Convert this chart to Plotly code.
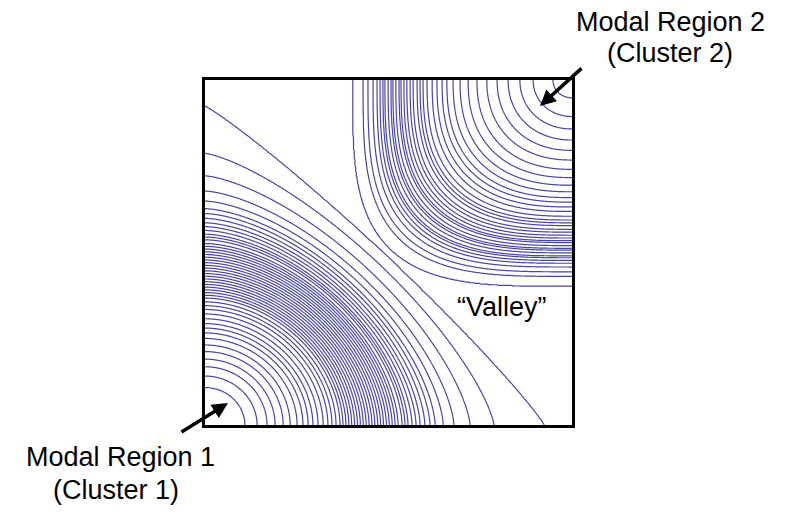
import numpy as np
import plotly.graph_objects as go

# ---- values (box-relative, fraction of box side) ----
# Modal region 1 (bottom-left corner): radii where successive contour levels cross the box edge
m1_outer_radii = [0.924, 0.787, 0.722, 0.678, 0.649, 0.627, 0.613, 0.599, 0.586,
                  0.575, 0.564, 0.553, 0.545, 0.537, 0.526, 0.518, 0.510]
m1_dense_levels = 17          # levels packed in the dense band between the two lists
m1_inner_radii = [0.376, 0.368, 0.357, 0.346, 0.335, 0.322, 0.308, 0.294, 0.281,
                  0.267, 0.251, 0.232, 0.213, 0.191, 0.169, 0.142, 0.109]
m1_shape_exp = [2.0, 1.1]     # contour shape exponent: inner -> outermost

# Modal region 2 (top-right corner): radii of successive contour levels (outermost first)
m2_radii = [0.597, 0.569, 0.556, 0.542, 0.531, 0.523, 0.515, 0.510, 0.501, 0.493,
            0.488, 0.480, 0.471, 0.466, 0.458, 0.450, 0.441, 0.433, 0.422, 0.414,
            0.406, 0.395, 0.381, 0.368, 0.354, 0.341, 0.324, 0.305, 0.283, 0.259,
            0.232, 0.204, 0.174, 0.142, 0.106, 0.052]
m2_shape_exp = [2.0, 3.6]

labels = {"m2a": "Modal Region 2", "m2b": "(Cluster 2)",
          "m1a": "Modal Region 1", "m1b": "(Cluster 1)",
          "valley": "\u201cValley\u201d"}

# ---- level profiles (radius -> level index) ----
n1o = len(m1_outer_radii)
lev1_r = m1_outer_radii + m1_inner_radii
lev1_k = list(range(n1o)) + [n1o - 1 + m1_dense_levels + j for j in range(len(m1_inner_radii))]
k1_top = lev1_k[-1]
r1 = np.array([0.0] + lev1_r + [1.8])
k1 = np.array([k1_top + 0.6] + lev1_k + [-1.5])
o1 = np.argsort(r1)
r1, k1 = r1[o1], k1[o1]

k2 = np.array([len(m2_radii) - 0.5] + list(range(len(m2_radii)))[::-1] + [-1.5], float)
r2 = np.array([0.0] + m2_radii[::-1] + [1.8])


def shaped_dist(a, b, p_in, p_out, r_out, gamma):
    a = np.abs(a)
    b = np.abs(b)
    r = np.hypot(a, b)
    for _ in range(80):
        t = np.clip(r / r_out, 0, 1)
        p = p_in + (p_out - p_in) * t ** gamma
        rn = (a ** p + b ** p) ** (1.0 / p)
        r = 0.5 * r + 0.5 * rn
    return r


n = 520
g = np.linspace(0, 1, n)
UU, VV = np.meshgrid(g, g)
d1 = shaped_dist(UU, VV, m1_shape_exp[0], m1_shape_exp[1], m1_outer_radii[0], 2.0)
d2 = shaped_dist(1 - UU, 1 - VV, m2_shape_exp[0], m2_shape_exp[1], m2_radii[0], 2.0)
F1 = np.interp(d1, r1, k1)
F2 = np.interp(d2, r2, k2)
Z = np.maximum(F1, F2)

line_col = "rgb(70,70,168)"

fig = go.Figure(go.Contour(
    x=g, y=g, z=Z, autocontour=False,
    contours=dict(start=0, end=k1_top + 0.5, size=1, coloring="none"),
    line=dict(color=line_col, width=1.2, smoothing=1),
    showscale=False, hoverinfo="skip"))

# plot box: x 205..572, y 80..425 in target pixels (page body adds an 8px offset)
BX0, BX1, BY0, BY1 = 205.0, 572.0, 80.0, 425.0
PW, PH = BX1 - BX0, BY1 - BY0


def px(x):
    return (x - BX0) / PW


def py(y):
    return (BY1 - y) / PH


fig.update_layout(
    width=788, height=514,
    margin=dict(l=BX0 - 8, r=788 - (BX0 - 8) - PW, t=BY0 - 8, b=514 - (BY0 - 8) - PH),
    plot_bgcolor="white", paper_bgcolor="white", showlegend=False,
    font=dict(family="Liberation Sans, Arial, sans-serif", size=27, color="black"))
ax = dict(range=[0, 1], showticklabels=False, showgrid=False, zeroline=False, ticks="",
          showline=True, mirror=True, linewidth=3, linecolor="black", fixedrange=True)
fig.update_xaxes(**ax)
fig.update_yaxes(**ax)

texts = [("m2a", 670, 22.5), ("m2b", 670, 53), ("m1a", 120, 457), ("m1b", 116, 490),
         ("valley", 502, 307)]
for key, x, y in texts:
    fig.add_annotation(text=labels[key], xref="paper", yref="paper", x=px(x), y=py(y),
                       xanchor="center", yanchor="middle", showarrow=False)

arrows = [((228, 403), (180, 433)), ((540, 106), (583, 67))]
for (hx, hy), (tx, ty) in arrows:
    fig.add_annotation(text="", xref="paper", yref="paper", x=px(hx), y=py(hy),
                       ax=tx - hx, ay=ty - hy, showarrow=True, arrowhead=2,
                       arrowsize=0.9, arrowwidth=3.5, arrowcolor="black", standoff=0)

fig.write_html("out.html")
